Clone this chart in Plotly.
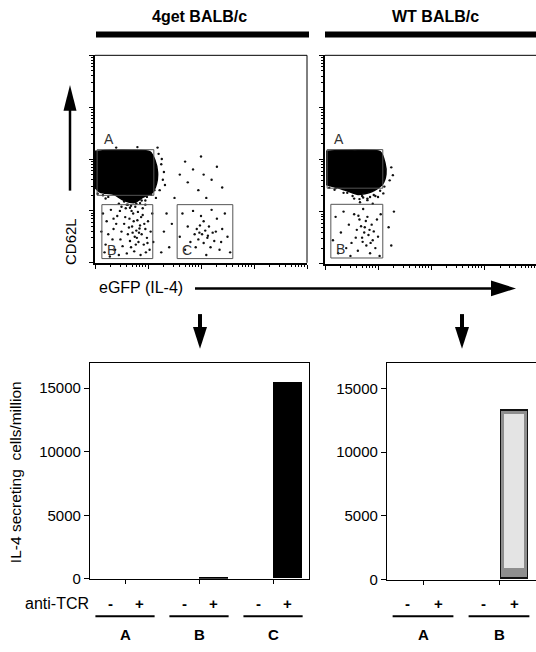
import math
import plotly.graph_objects as go

W, H = 536, 652
FONT = "Liberation Sans, Arial, sans-serif"

# ---------------- data ----------------
strains = ["4get BALB/c", "WT BALB/c"]
groups = ["A", "B", "C"]
treatments = ["-", "+"]

# IL-4 secreting cells / million (A-, A+, B-, B+, C-, C+)
il4_4get = [0, 0, 0, 80, 0, 15430]
il4_wt = [0, 0, 0, 13330]          # C bars fall outside the cropped panel

# flow gates (log10 units): name, x0, x1, y0, y1
gates_4get = [("A", 0.04, 1.11, 1.30, 2.18), ("B", 0.13, 1.09, 0.08, 1.12), ("C", 1.55, 2.60, 0.08, 1.12)]
gates_wt = [("A", 0.04, 1.09, 1.45, 2.19), ("B", 0.11, 1.09, 0.11, 1.14)]

# dense CD62L-high population outline (log10 units)
cloud1_x = [0.00, 0.30, 0.70, 1.04, 1.13, 1.18, 1.16, 1.08, 0.90, 0.75, 0.55, 0.35, 0.10, 0.00]
cloud1_y = [2.15, 2.17, 2.17, 2.14, 1.98, 1.75, 1.52, 1.35, 1.26, 1.16, 1.20, 1.32, 1.36, 1.45]
cloud2_x = [0.02, 0.50, 1.04, 1.13, 1.15, 1.08, 0.88, 0.62, 0.30, 0.02]
cloud2_y = [2.16, 2.18, 2.15, 1.94, 1.72, 1.52, 1.38, 1.33, 1.44, 1.52]

# individual events, 4get panel
dots1_x = [0.15, 0.22, 0.30, 0.35, 0.42, 0.48, 0.55, 0.58, 0.62, 0.65, 0.68, 0.70, 0.72, 0.75, 0.78,
           0.80, 0.82, 0.85, 0.88, 0.90, 0.92, 0.95, 0.98, 1.00, 1.03, 1.05, 0.20, 0.25, 0.18, 0.38,
           0.45, 0.52, 0.60, 0.74, 0.86, 0.96, 0.33, 0.40, 0.50, 0.57, 0.66, 0.77, 0.83, 0.87, 0.93,
           0.99, 0.64, 0.71, 0.79, 0.84, 0.73, 0.81, 0.69, 0.76, 0.62, 0.85, 0.90, 0.55, 0.95, 0.12,
           0.28, 1.08, 1.10, 0.47, 0.35,
           1.25, 1.28, 1.20, 1.30, 1.22, 1.15, 0.95, 1.32, 1.18, 0.40, 0.80, 1.26,
           0.05, 0.15, 0.25, 0.45, 0.60, 0.68, 0.78, 0.88, 0.98, 1.06, 1.12, 0.20, 0.50, 0.66,
           1.30, 1.35, 1.40, 1.45, 1.25, 1.50, 1.75, 1.85, 1.95, 2.05, 2.20, 2.30, 2.10, 1.70, 2.00,
           2.40, 1.60,
           1.65, 1.75, 1.80, 1.88, 1.92, 1.95, 1.98, 2.02, 2.05, 2.08, 2.12, 2.15, 2.18, 2.22, 2.25,
           2.30, 2.35, 2.40, 2.45, 2.50, 2.55, 1.70, 1.85, 2.00, 2.20, 1.60, 2.10, 2.38, 1.90, 2.28,
           2.05, 1.97, 2.13]
dots1_y = [0.95, 0.80, 1.02, 0.65, 0.90, 0.45, 0.75, 1.05, 0.55, 0.85, 0.30, 0.70, 0.95, 0.50, 0.62,
           0.82, 0.40, 0.72, 0.55, 0.92, 0.35, 0.65, 0.48, 0.80, 0.25, 0.60, 0.35, 0.55, 0.20, 0.25,
           0.15, 0.32, 0.18, 0.22, 0.15, 0.20, 0.45, 0.75, 0.60, 0.88, 0.42, 0.35, 0.58, 0.88, 0.75,
           0.38, 0.68, 0.58, 0.48, 0.66, 0.80, 0.98, 1.00, 1.08, 1.12, 1.15, 1.05, 1.18, 1.12, 0.60,
           0.12, 0.95, 0.40, 1.00, 0.85,
           1.90, 1.60, 2.10, 1.75, 1.40, 1.25, 1.20, 1.50, 2.22, 2.22, 2.23, 2.00,
           1.33, 1.30, 1.27, 1.14, 1.12, 1.10, 1.14, 1.20, 1.27, 1.31, 1.40, 1.24, 1.08, 1.06,
           0.60, 0.95, 0.30, 0.75, 0.20, 1.25, 1.55, 1.80, 1.40, 1.70, 1.60, 1.85, 1.25, 1.95, 2.05,
           1.45, 1.70,
           0.95, 0.70, 0.40, 0.55, 0.65, 0.45, 0.72, 0.55, 0.38, 0.62, 0.48, 0.70, 0.30, 0.58, 0.42,
           0.85, 0.25, 0.65, 0.95, 0.50, 0.20, 0.25, 1.00, 0.90, 1.02, 0.50, 0.15, 0.40, 0.30, 0.60,
           0.80, 0.58, 0.52]

# individual events, WT panel
dots2_x = [0.20, 0.30, 0.35, 0.45, 0.50, 0.55, 0.60, 0.62, 0.65, 0.70, 0.72, 0.75, 0.78, 0.80, 0.82,
           0.85, 0.88, 0.90, 0.92, 0.95, 0.98, 1.00, 1.03, 0.58, 0.68, 0.74, 0.86, 0.40, 0.25, 0.15,
           0.48, 0.66, 0.80, 0.90, 0.55, 1.05, 0.77, 0.84, 0.71, 0.63, 1.20, 1.30, 1.25, 0.95, 0.70,
           1.25, 1.22, 1.28, 1.10, 1.00, 0.35, 0.20,
           0.08, 0.18, 0.42, 0.52, 0.72, 0.80, 0.92, 1.04, 1.12, 0.65, 0.85]
dots2_y = [0.90, 0.60, 1.00, 0.75, 0.40, 0.95, 0.65, 0.25, 0.85, 0.50, 1.05, 0.70, 0.35, 0.90, 0.55,
           0.20, 0.75, 0.45, 0.62, 0.30, 0.85, 0.52, 0.15, 0.50, 0.72, 0.60, 0.40, 0.30, 0.20, 0.45,
           0.15, 1.18, 1.22, 1.15, 1.25, 0.95, 0.82, 0.65, 0.42, 0.92, 0.70, 1.00, 0.35, 1.30, 1.30,
           1.85, 1.60, 1.70, 1.35, 1.28, 1.36, 1.45,
           1.46, 1.42, 1.36, 1.30, 1.27, 1.25, 1.32, 1.40, 1.48, 1.24, 1.28]

BAR_OFFSET = {"-": -0.2, "+": 0.2}

# ---------------- helpers ----------------
def PX(x):
    return x / W

def PY(y):
    return 1 - y / H

fig = go.Figure()

# flow panels
for ax, cx, cy, dx, dy in [("", cloud1_x, cloud1_y, dots1_x, dots1_y), ("2", cloud2_x, cloud2_y, dots2_x, dots2_y)]:
    fig.add_trace(go.Scatter(x=cx, y=cy, mode="lines", fill="toself", fillcolor="black",
                             line=dict(color="black", width=1.5, shape="spline", smoothing=0.7),
                             xaxis="x" + ax, yaxis="y" + ax, hoverinfo="skip", showlegend=False))
    fig.add_trace(go.Scatter(x=dx, y=dy, mode="markers", marker=dict(color="#111", size=2.4),
                             xaxis="x" + ax, yaxis="y" + ax, hoverinfo="skip", showlegend=False))

# bar panels
def bar_positions(values):
    pos = []
    for i in range(len(values)):
        g, t = divmod(i, 2)
        pos.append(g + BAR_OFFSET[treatments[t]])
    return pos

fig.add_trace(go.Bar(x=bar_positions(il4_4get), y=il4_4get, width=0.39, marker=dict(color="black", line=dict(width=0)),
                     xaxis="x3", yaxis="y3", showlegend=False))
# WT bar: black outline, grey rim, light core
fig.add_trace(go.Bar(x=bar_positions(il4_wt), y=il4_wt, width=0.37,
                     marker=dict(color="#111", line=dict(width=0)),
                     xaxis="x4", yaxis="y4", showlegend=False))
fig.add_trace(go.Bar(x=bar_positions(il4_wt), y=[max(v - 300, 0) for v in il4_wt],
                     base=[150 if v > 0 else 0 for v in il4_wt], width=0.34,
                     marker=dict(color="#8e8e8e", line=dict(width=0)),
                     xaxis="x4", yaxis="y4", showlegend=False))
fig.add_trace(go.Bar(x=bar_positions(il4_wt), y=[max(v - 1250, 0) for v in il4_wt],
                     base=[850 if v > 0 else 0 for v in il4_wt], width=0.27,
                     marker=dict(color="#e4e4e4", line=dict(width=0)),
                     xaxis="x4", yaxis="y4", showlegend=False))

# minor tick positions for 4-decade log scale
minor_vals = [d + math.log10(k) for d in range(4) for k in range(2, 10)]

flow_axis = dict(range=[0, 4], showgrid=False, zeroline=False, showline=True, linecolor="black", linewidth=2,
                 ticks="outside", ticklen=4, tickwidth=1, tickcolor="black", tickvals=[0, 1, 2, 3, 4],
                 showticklabels=False,
                 minor=dict(tickmode="array", tickvals=minor_vals, ticks="outside", ticklen=2, tickcolor="black"))

bar_y = dict(range=[0, 16940], showgrid=False, zeroline=False, showline=True, linecolor="black", linewidth=1.3,
             ticks="outside", ticklen=5, tickwidth=1.3, tickcolor="black", tickvals=[0, 5000, 10000, 15000],
             tickformat="d", tickfont=dict(family=FONT, size=15, color="black"))
bar_x = dict(showgrid=False, zeroline=False, showline=True, linecolor="black", linewidth=1.3,
             ticks="outside", ticklen=4, tickwidth=1.3, tickcolor="black", showticklabels=False)

fig.update_layout(
    autosize=True, margin=dict(l=0, r=0, t=0, b=0, pad=0),
    paper_bgcolor="white", plot_bgcolor="white", bargap=0,
    barmode="overlay",
    xaxis=dict(flow_axis, domain=[PX(95), PX(307)], anchor="y"),
    yaxis=dict(flow_axis, domain=[PY(266), PY(56)], anchor="x"),
    xaxis2=dict(flow_axis, domain=[PX(325), 1.0], anchor="y2", range=[0, 3.98]),
    yaxis2=dict(flow_axis, domain=[PY(267), PY(56)], anchor="x2"),
    xaxis3=dict(bar_x, domain=[PX(90), PX(309)], anchor="y3", range=[-0.473, 2.486],
                tickvals=list(range(len(groups))), mirror=True),
    yaxis3=dict(bar_y, domain=[PY(586), PY(368)], anchor="x3", mirror=True),
    xaxis4=dict(bar_x, domain=[PX(387), 1.0], anchor="y4", range=[-0.474, 1.487],
                tickvals=list(range(len(groups))), mirror=True),
    yaxis4=dict(bar_y, domain=[PY(587), PY(368)], anchor="x4"),
    font=dict(family=FONT, color="black"),
)

shapes = []
annotations = []

def note(x, y, text, size=14, xref="paper", yref="paper", xanchor="center", yanchor="middle", color="black", angle=0):
    annotations.append(dict(x=x, y=y, xref=xref, yref=yref, text=text, showarrow=False, xanchor=xanchor,
                            yanchor=yanchor, textangle=angle, font=dict(size=size, color=color, family=FONT)))

# flow panel borders (thin top/right)
shapes.append(dict(type="line", xref="x domain", yref="y domain", x0=0, x1=1, y0=1, y1=1, line=dict(color="black", width=1)))
shapes.append(dict(type="line", xref="x domain", yref="y domain", x0=1, x1=1, y0=0, y1=1, line=dict(color="black", width=1)))
shapes.append(dict(type="line", xref="x2 domain", yref="y2 domain", x0=0, x1=1, y0=1, y1=1, line=dict(color="black", width=1)))

# gates
for ax, gates in [("", gates_4get), ("2", gates_wt)]:
    for name, x0, x1, y0, y1 in gates:
        shapes.append(dict(type="rect", xref="x" + ax, yref="y" + ax, x0=x0, x1=x1, y0=y0, y1=y1,
                           line=dict(color="#555", width=1), layer="above"))
        if name == "A":
            note(x0 + 0.1, y1 + 0.02, name, size=14, xref="x" + ax, yref="y" + ax, xanchor="left",
                 yanchor="bottom", color="#333")
        else:
            note(x0 + 0.06, y0 - 0.02, name, size=14, xref="x" + ax, yref="y" + ax, xanchor="left",
                 yanchor="bottom", color="#333")

# strain titles and thick bars
for name, cx, bx0, bx1 in [(strains[0], 199, 96, 309), (strains[1], 435, 325, 536)]:
    note(PX(cx), PY(17), "<b>%s</b>" % name, size=16)
    shapes.append(dict(type="rect", xref="paper", yref="paper", x0=PX(bx0), x1=PX(bx1), y0=PY(38), y1=PY(32),
                       fillcolor="black", line=dict(width=0)))

# axis labels of flow plot
note(PX(71), PY(245), "CD62L", size=15, angle=-90)
note(PX(141), PY(291), "eGFP (IL-4)", size=16)

# arrows
def tri(p1, p2, p3):
    return "M %f %f L %f %f L %f %f Z" % (PX(p1[0]), PY(p1[1]), PX(p2[0]), PY(p2[1]), PX(p3[0]), PY(p3[1]))

shapes.append(dict(type="line", xref="paper", yref="paper", x0=PX(70), x1=PX(70), y0=PY(193), y1=PY(110),
                   line=dict(color="black", width=2.5)))
shapes.append(dict(type="path", xref="paper", yref="paper", path=tri((70, 86), (63.5, 112), (76.5, 112)),
                   fillcolor="black", line=dict(width=0)))
shapes.append(dict(type="line", xref="paper", yref="paper", x0=PX(195), x1=PX(494), y0=PY(292), y1=PY(292),
                   line=dict(color="black", width=2.5)))
shapes.append(dict(type="path", xref="paper", yref="paper", path=tri((516, 292), (491, 284), (491, 300)),
                   fillcolor="black", line=dict(width=0)))
for ax in [200, 462]:
    shapes.append(dict(type="line", xref="paper", yref="paper", x0=PX(ax), x1=PX(ax), y0=PY(318), y1=PY(332),
                       line=dict(color="black", width=4)))
    shapes.append(dict(type="path", xref="paper", yref="paper", path=tri((ax - 7, 331), (ax + 7, 331), (ax, 353)),
                       fillcolor="black", line=dict(width=0)))

# bar-panel category labels
for xa, ngroups in [("x3", 3), ("x4", 2)]:
    for g in range(ngroups):
        for t in treatments:
            note(g + BAR_OFFSET[t], PY(611), "<b>%s</b>" % t, size=15, xref=xa)
        shapes.append(dict(type="line", xref=xa, yref="paper", x0=g - 0.4, x1=g + 0.4, y0=PY(624), y1=PY(624),
                           line=dict(color="black", width=2)))
        note(g, PY(642), "<b>%s</b>" % groups[g], size=15, xref=xa)

note(PX(57), PY(611), "anti-TCR", size=16)
note(PX(15), PY(478), "IL-4 secreting  cells/million", size=15.5, angle=-90)

fig.update_layout(shapes=shapes, annotations=annotations)
fig.write_html(
    "out.html",
    config={"displayModeBar": False, "responsive": True},
    default_width="100%", default_height="100%",
    post_script=(
        "var gd=document.getElementById('{plot_id}');"
        "[document.documentElement, document.body].forEach(function(e){"
        "e.style.margin='0';e.style.padding='0';e.style.height='100%';e.style.overflow='hidden';});"
        "gd.style.width='100vw';gd.style.height='100vh';"
        "Plotly.Plots.resize(gd);"
    ),
)
